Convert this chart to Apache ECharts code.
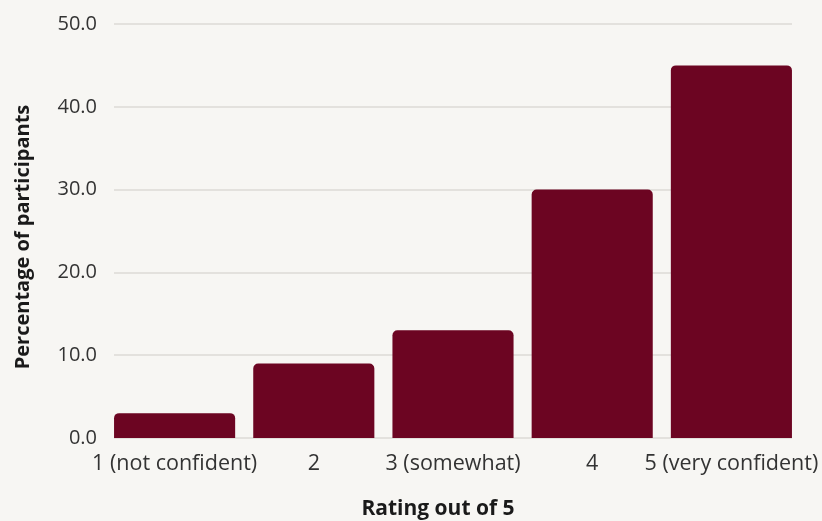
<!DOCTYPE html>
<html>
<head>
<meta charset="utf-8">
<script src="https://cdn.jsdelivr.net/npm/echarts@6/dist/echarts.min.js"></script>
<style>
  html, body { margin: 0; padding: 0; background: #f7f6f3; }
  #chart { width: 822px; height: 521px; }
</style>
</head>
<body>
<div id="chart"></div>
<script>
// Confidence ratings and the share of participants giving each
const categories = ['1 (not confident)', '2', '3 (somewhat)', '4', '5 (very confident)'];
const percentages = [3, 9, 13, 30, 45];
const yTicks = { min: 0, max: 50, interval: 10 };

const font = '"Open Sans", "Noto Sans", sans-serif';
const chart = echarts.init(document.getElementById('chart'));

chart.setOption({
  backgroundColor: '#f7f6f3',
  textStyle: { fontFamily: font },
  grid: [
    // gridlines and y labels
    { left: 114, right: 30, top: 24, bottom: 83, outerBoundsMode: 'none', containLabel: false },
    // bars and category labels
    { left: 105, right: 21, top: 24, bottom: 83, outerBoundsMode: 'none', containLabel: false }
  ],
  xAxis: [
    { type: 'category', gridIndex: 0, data: categories, show: false },
    {
      type: 'category', gridIndex: 1, data: categories,
      axisLine: { show: false }, axisTick: { show: false },
      axisLabel: { color: '#333', fontSize: 21.5, margin: 15, fontFamily: font, interval: 0 },
      name: 'Rating out of 5', nameLocation: 'middle', nameGap: 61,
      nameTextStyle: { color: '#1a1a1a', fontSize: 21, fontWeight: 'bold', fontFamily: font,
                       padding: [0, 30, 0, 0] }
    }
  ],
  yAxis: [
    {
      type: 'value', gridIndex: 0, min: yTicks.min, max: yTicks.max, interval: yTicks.interval,
      axisLine: { show: false }, axisTick: { show: false },
      axisLabel: { color: '#333', fontSize: 20, margin: 17, fontFamily: font,
                   formatter: v => v.toFixed(1) },
      splitLine: { lineStyle: { color: '#dcdad6', width: 1.5 } },
      name: 'Percentage of participants', nameLocation: 'middle', nameGap: 81, nameRotate: 90,
      nameTextStyle: { color: '#1a1a1a', fontSize: 20, fontWeight: 'bold', fontFamily: font,
                       padding: [0, 12, 0, 0] }
    },
    {
      type: 'value', gridIndex: 1, min: yTicks.min, max: yTicks.max, interval: yTicks.interval,
      show: false, splitLine: { show: false }
    }
  ],
  series: [{
    type: 'bar',
    xAxisIndex: 1, yAxisIndex: 1,
    data: percentages,
    barCategoryGap: '13%',
    itemStyle: { color: '#6c0522', borderRadius: [5, 5, 0, 0] },
    silent: true,
    animation: false
  }]
});
</script>
</body>
</html>
